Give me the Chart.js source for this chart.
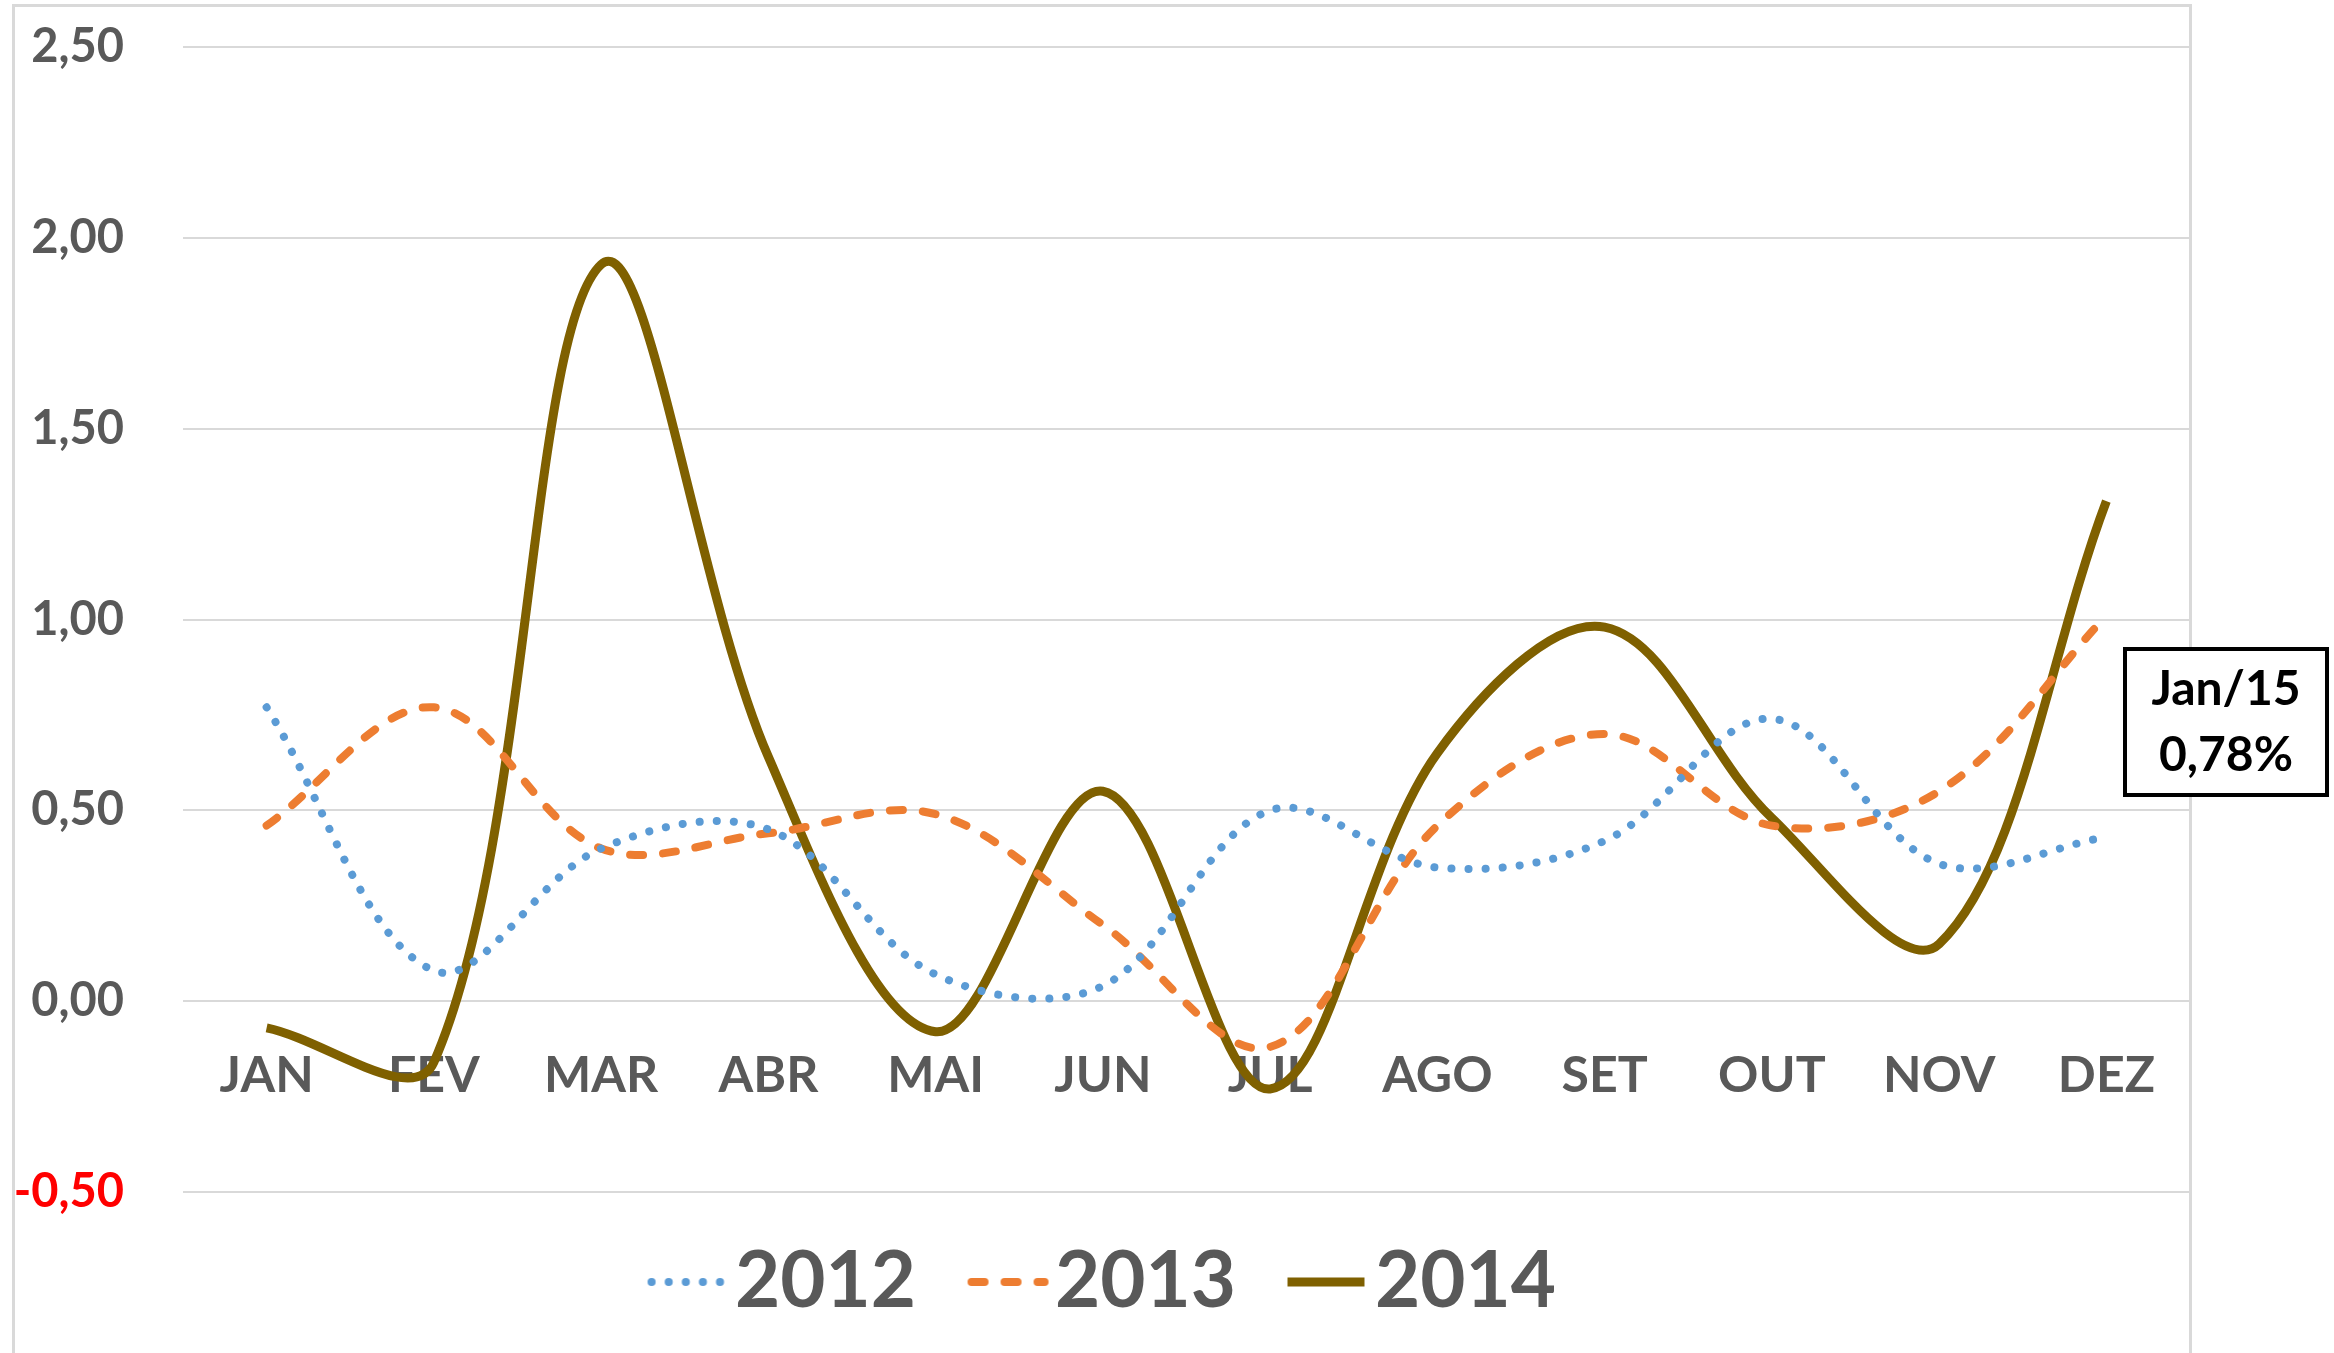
<!DOCTYPE html>
<html>
<head>
<meta charset="utf-8">
<script src="https://cdn.jsdelivr.net/npm/chart.js@4.4.1/dist/chart.umd.min.js"></script>
<style>
  body { margin: 0; background: #fff; }
  #wrap { width: 2334px; height: 1353px; }
</style>
</head>
<body>
<div id="wrap"><canvas id="chart"></canvas></div>
<script>
const months = ["JAN", "FEV", "MAR", "ABR", "MAI", "JUN", "JUL", "AGO", "SET", "OUT", "NOV", "DEZ"];
const values2012 = [0.77, 0.08, 0.40, 0.45, 0.07, 0.04, 0.50, 0.35, 0.42, 0.74, 0.36, 0.43];
const values2013 = [0.46, 0.77, 0.40, 0.44, 0.49, 0.20, -0.12, 0.46, 0.70, 0.46, 0.55, 1.01];
const values2014 = [-0.07, -0.16, 1.93, 0.64, -0.08, 0.55, -0.23, 0.65, 0.98, 0.48, 0.15, 1.31];
const noteLines = ["Jan/15", "0,78%"];

Chart.defaults.font.family = "Lato, 'Open Sans', sans-serif";
Chart.defaults.font.weight = "bold";

// legend symbol drawn into a small canvas so the line sits just left of the text
function legendSymbol(ds) {
  const c = document.createElement("canvas");
  c.width = 200;
  c.height = 20;
  const g = c.getContext("2d");
  g.strokeStyle = ds.borderColor;
  g.lineWidth = ds.borderWidth;
  g.lineCap = ds.borderCapStyle || "butt";
  g.setLineDash(ds.borderDash || []);
  g.beginPath();
  const x0 = ds.borderCapStyle === "round" ? 80 : 76;
  g.moveTo(x0, 10);
  g.lineTo(153, 10);
  g.stroke();
  return c;
}

// light grey frame round the chart
const framePlugin = {
  id: "frame",
  beforeDraw(chart) {
    const ctx = chart.ctx;
    ctx.save();
    ctx.strokeStyle = "#D9D9D9";
    ctx.lineWidth = 3;
    ctx.strokeRect(13.5, 5.5, 2177, 1400);
    ctx.restore();
  },
};

// boxed note on the right
const notePlugin = {
  id: "note",
  afterDraw(chart) {
    const ctx = chart.ctx;
    ctx.save();
    ctx.fillStyle = "#fff";
    ctx.fillRect(2125, 649, 202, 146);
    ctx.strokeStyle = "#000";
    ctx.lineWidth = 4;
    ctx.strokeRect(2125, 649, 202, 146);
    ctx.fillStyle = "#000";
    ctx.font = "bold 48px Lato, sans-serif";
    ctx.textAlign = "center";
    ctx.textBaseline = "middle";
    ctx.fillText(noteLines[0], 2226, 690);
    ctx.fillText(noteLines[1], 2226, 756);
    ctx.restore();
  },
};

const ctx = document.getElementById("chart").getContext("2d");
new Chart(ctx, {
  type: "line",
  data: {
    labels: months,
    datasets: [
      {
        label: "2012",
        data: values2012,
        borderColor: "#5B9BD5",
        backgroundColor: "#5B9BD5",
        borderWidth: 8,
        borderDash: [0.1, 17],
        borderCapStyle: "round",
        pointRadius: 0,
        tension: 0.35,
      },
      {
        label: "2013",
        data: values2013,
        borderColor: "#ED7D31",
        backgroundColor: "#ED7D31",
        borderWidth: 8,
        borderDash: [13, 20],
        borderCapStyle: "round",
        pointRadius: 0,
        tension: 0.35,
      },
      {
        label: "2014",
        data: values2014,
        borderColor: "#7F6000",
        backgroundColor: "#7F6000",
        borderWidth: 9,
        pointRadius: 0,
        tension: 0.35,
      },
    ],
  },
  options: {
    responsive: true,
    maintainAspectRatio: false,
    animation: false,
    layout: { padding: { left: 13, right: 144, top: 47, bottom: 22 } },
    scales: {
      x: {
        position: { y: 0 },
        offset: true,
        grid: { display: false, drawTicks: false },
        border: { display: false },
        ticks: { color: "#595959", font: { size: 50, weight: "bold" }, padding: 45 },
        afterFit(scale) { scale.height = 0; },
      },
      y: {
        min: -0.5,
        max: 2.5,
        ticks: {
          stepSize: 0.5,
          padding: 59,
          font: { size: 47, weight: "bold" },
          color: (c) => (c.tick && c.tick.value < 0 ? "#FF0000" : "#595959"),
          callback: (v) => v.toFixed(2).replace(".", ","),
        },
        grid: { color: "#D9D9D9", lineWidth: 2, drawTicks: false },
        border: { display: false },
        afterFit(scale) {
          scale.width = 170;
          // tick padding is only meant to push labels left, not to shrink the plot
          scale.paddingTop = 0;
          scale.paddingBottom = 0;
        },
      },
    },
    plugins: {
      legend: {
        position: "bottom",
        maxHeight: 144,
        labels: {
          usePointStyle: true,
          pointStyleWidth: 49,
          padding: 51,
          color: "#595959",
          font: { size: 78, weight: "bold" },
          generateLabels(chart) {
            const items = Chart.defaults.plugins.legend.labels.generateLabels(chart);
            items.forEach((it) => {
              it.pointStyle = legendSymbol(chart.data.datasets[it.datasetIndex]);
            });
            return items;
          },
        },
      },
      tooltip: { enabled: false },
    },
  },
  plugins: [framePlugin, notePlugin],
});
</script>
</body>
</html>
